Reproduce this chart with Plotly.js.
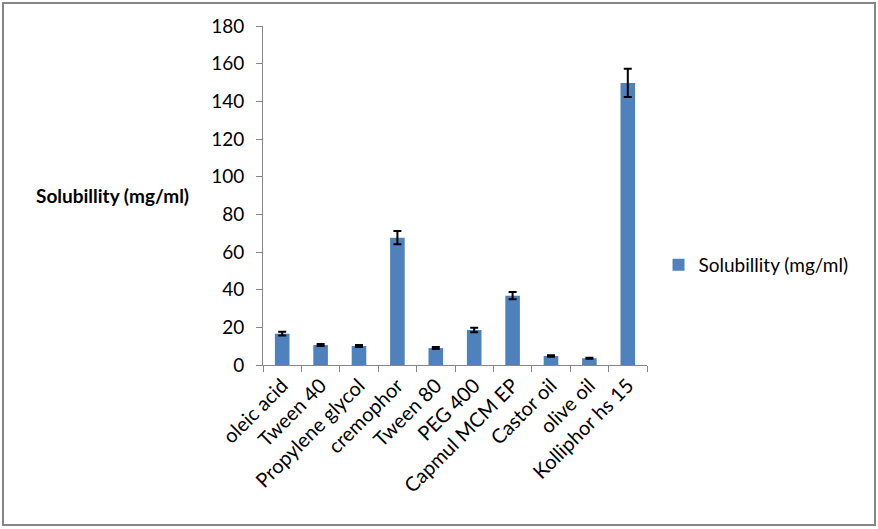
<!DOCTYPE html>
<html>
<head>
<meta charset="utf-8">
<script src="https://cdn.plot.ly/plotly-3.0.1.min.js"></script>
<style>
html,body{margin:0;padding:0;background:#fff;}
#wrap{position:relative;width:878px;height:529px;}
#chart{width:878px;height:529px;}
#frame{position:absolute;left:2px;top:2px;width:870px;height:520px;border:2px solid #868686;pointer-events:none;}
</style>
</head>
<body>
<div id="wrap"><div id="chart"></div><div id="frame"></div></div>
<script>
const categories = ["oleic acid","Tween 40","Propylene glycol","cremophor","Tween 80","PEG 400","Capmul MCM EP","Castor oil","olive oil","Kolliphor hs 15"];
const solubility = [16.6, 10.6, 10.1, 67.6, 9.0, 18.6, 36.8, 4.8, 3.6, 149.8];
const errors = [1.0, 0.5, 0.5, 3.5, 0.5, 1.2, 1.9, 0.4, 0.3, 7.5];
const seriesName = "Solubillity (mg/ml)";
const yTitle = "Solubillity (mg/ml)";

const font = "Lato, 'Open Sans', sans-serif";

const trace = {
  type: "bar",
  x: categories,
  y: solubility,
  name: seriesName,
  marker: {color: "#4f81bd"},
  error_y: {type: "data", array: errors, visible: true, color: "#000", thickness: 2, width: 4},
  showlegend: true
};

const layout = {
  width: 878, height: 529,
  margin: {l: 263, r: 231, t: 26, b: 164},
  paper_bgcolor: "#fff", plot_bgcolor: "#fff",
  bargap: 0.62,
  font: {family: font, size: 17, color: "#000"},
  xaxis: {
    showline: true, linecolor: "#868686", linewidth: 1,
    ticks: "outside", ticklen: 6, tickcolor: "#868686", tickson: "boundaries",
    tickangle: -45, tickfont: {family: font, size: 20, color: "#000"},
    showgrid: false, zeroline: false
  },
  yaxis: {
    range: [0, 180], dtick: 20,
    showline: true, linecolor: "#868686", linewidth: 1,
    ticks: "outside", ticklen: 6, tickcolor: "#868686",
    ticklabelstandoff: 8,
    tickfont: {family: font, size: 19, color: "#000"},
    showgrid: false, zeroline: false
  },
  legend: {
    x: 1.03, y: 0.295, xanchor: "left", yanchor: "middle",
    font: {family: font, size: 19, color: "#000"},
    itemwidth: 30
  },
  annotations: [{
    text: "<b>" + yTitle + "</b>",
    xref: "paper", yref: "paper", x: -0.393, y: 0.5,
    xanchor: "center", yanchor: "middle", showarrow: false,
    font: {family: font, size: 19, color: "#000"}
  }]
};

Plotly.newPlot("chart", [trace], layout, {displayModeBar: false, staticPlot: true});
</script>
</body>
</html>
